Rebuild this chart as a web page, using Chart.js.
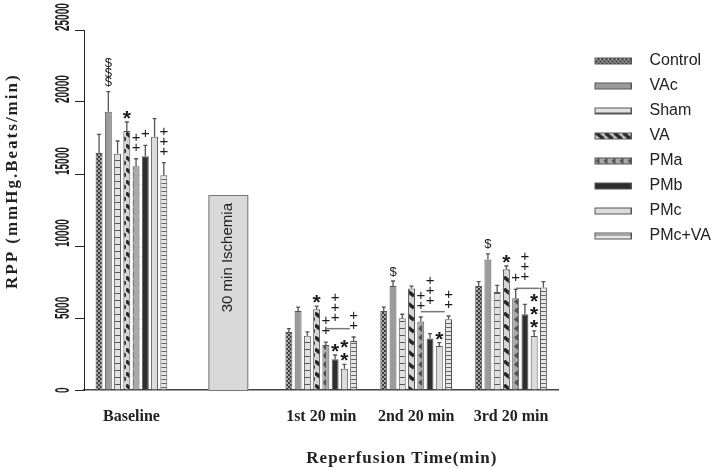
<!DOCTYPE html>
<html>
<head>
<meta charset="utf-8">
<script src="https://cdn.jsdelivr.net/npm/chart.js@4.4.0/dist/chart.umd.min.js"></script>
<style>
  html, body { margin: 0; padding: 0; background: #fff; }
</style>
</head>
<body>
<canvas id="rpp" width="718" height="470"></canvas>
<script>
// x categories (index 1 is the ischemia gap)
const categories = ["Baseline", "", "1st 20 min", "2nd 20 min", "3rd 20 min"];
const groups = ["Control", "VAc", "Sham", "VA", "PMa", "PMb", "PMc", "PMc+VA"];
const yTicks = [0, 5000, 10000, 15000, 20000, 25000];

// means (mmHg.Beats/min)
const control = [16450, null, 4030, 5490, 7220];
const vac     = [19330, null, 5490, 7220, 9070];
const sham    = [16410, null, 3770, 4980, 6810];
const va      = [17990, null, 5600, 7040, 8380];
const pma     = [15530, null, 3130, 4750, 6370];
const pmb     = [16230, null, 2130, 3570, 5260];
const pmc     = [17590, null, 1480, 3060, 3750];
const pmcva   = [14910, null, 3400, 4910, 7110];

// error bar (SEM) sizes
const controlErr = [1300, null, 230, 270, 300];
const vacErr     = [1390, null, 270, 350, 380];
const shamErr    = [880,  null, 260, 280, 460];
const vaErr      = [620,  null, 230, 180, 230];
const pmaErr     = [530,  null, 200, 320, 620];
const pmbErr     = [760,  null, 300, 340, 690];
const pmcErr     = [1250, null, 300, 230, 350];
const pmcvaErr   = [880,  null, 280, 230, 410];

const ischemiaTop = 13540;
const ischemiaText = "30 min Ischemia";

// significance symbols: [category, group, symbols stacked from top]
const marks = [
  [0, "VAc", "$$$"], [0, "VA", "*"], [0, "PMa", "++"], [0, "PMb", "+"], [0, "PMc+VA", "+++"],
  [2, "VA", "*"], [2, "PMa", "++"], [2, "PMb", "*"], [2, "PMc", "**"], [2, "PMc+VA", "++"],
  [3, "VAc", "$"], [3, "PMa", "++"], [3, "PMc", "*"], [3, "PMc+VA", "++"],
  [4, "VAc", "$"], [4, "VA", "*"], [4, "PMa", "+"], [4, "PMc", "***"]
];
// bracket over PMa..PMc with "+++" on top
const bracketLevel = [null, null, 4260, 5440, 7060];
const bracketText = "+++";

const means = [control, vac, sham, va, pma, pmb, pmc, pmcva];
const errors = [controlErr, vacErr, shamErr, vaErr, pmaErr, pmbErr, pmcErr, pmcvaErr];

// ---- fill patterns ----
function tile(w, h, paint) {
  const c = document.createElement("canvas");
  c.width = w; c.height = h;
  paint(c.getContext("2d"), w, h);
  return c;
}
const tiles = [
  tile(4, 4, (g) => { g.fillStyle = "#3a3a3a"; g.fillRect(0, 0, 4, 4); g.fillStyle = "#a8a8a8"; g.fillRect(0, 0, 2, 2); g.fillRect(2, 2, 2, 2); }),
  tile(4, 4, (g) => { g.fillStyle = "#9b9b9b"; g.fillRect(0, 0, 4, 4); }),
  tile(7, 7, (g) => { g.fillStyle = "#e2e2e2"; g.fillRect(0, 0, 7, 7); g.fillStyle = "#555"; g.fillRect(0, 6, 7, 1); }),
  tile(9, 12, (g) => { g.fillStyle = "#d6d6d6"; g.fillRect(0, 0, 9, 12); g.strokeStyle = "#262626"; g.lineWidth = 3.5; g.beginPath(); g.moveTo(0, 1); g.lineTo(9, 8); g.stroke(); }),
  tile(8, 9, (g) => { g.fillStyle = "#a9a9a9"; g.fillRect(0, 0, 8, 9); g.fillStyle = "#505050"; g.beginPath(); g.moveTo(6, 1); g.lineTo(2, 4.5); g.lineTo(6, 8); g.fill(); }),
  tile(4, 4, (g) => { g.fillStyle = "#2e2e2e"; g.fillRect(0, 0, 4, 4); }),
  tile(4, 4, (g) => { g.fillStyle = "#dcdcdc"; g.fillRect(0, 0, 4, 4); }),
  tile(4, 4, (g) => { g.fillStyle = "#e6e6e6"; g.fillRect(0, 0, 4, 4); g.fillStyle = "#666"; g.fillRect(0, 3, 4, 1); })
];
const helperCtx = document.createElement("canvas").getContext("2d");
const patterns = tiles.map((t) => helperCtx.createPattern(t, "repeat"));

// legend swatches: 37x7 box at the right end of a 54px wide image
function swatch(i) {
  return tile(54, 9, (g) => {
    g.fillStyle = patterns[i];
    g.fillRect(17, 1, 37, 7);
    g.strokeStyle = "#555"; g.lineWidth = 1;
    g.strokeRect(17.5, 1.5, 36, 6);
  });
}

const overlay = {
  id: "overlay",
  beforeDatasetsDraw(chart) {
    const { ctx, scales: { x, y } } = chart;
    const step = x.width / categories.length;
    const cx = x.getPixelForValue(1) + 2;
    const top = y.getPixelForValue(ischemiaTop);
    const bottom = y.getPixelForValue(0);
    ctx.save();
    ctx.fillStyle = "#d9d9d9";
    ctx.strokeStyle = "#777";
    ctx.lineWidth = 1;
    ctx.fillRect(cx - step * 0.21, top, step * 0.42, bottom - top);
    ctx.strokeRect(cx - step * 0.21 + 0.5, top + 0.5, step * 0.42 - 1, bottom - top);
    ctx.translate(cx, top + 8);
    ctx.rotate(-Math.PI / 2);
    ctx.fillStyle = "#222";
    ctx.font = "15px 'Liberation Sans', Arial, sans-serif";
    ctx.textAlign = "right";
    ctx.textBaseline = "middle";
    ctx.fillText(ischemiaText, 0, 0);
    ctx.restore();
  },
  afterDatasetsDraw(chart) {
    const { ctx, scales: { y } } = chart;
    ctx.save();
    // error bars
    ctx.strokeStyle = "#555";
    ctx.lineWidth = 1.3;
    means.forEach((vals, i) => {
      const meta = chart.getDatasetMeta(i);
      vals.forEach((v, j) => {
        const e = errors[i][j];
        if (v == null || e == null) return;
        const bar = meta.data[j];
        const t = y.getPixelForValue(v + e);
        ctx.beginPath();
        ctx.moveTo(bar.x, bar.y);
        ctx.lineTo(bar.x, t);
        ctx.moveTo(bar.x - 2, t);
        ctx.lineTo(bar.x + 2, t);
        ctx.stroke();
      });
    });

    const drawStack = (text, cx, base) => {
      // stack characters upward starting at pixel "base"
      let yy = base;
      for (let k = text.length - 1; k >= 0; k--) {
        const ch = text[k];
        if (ch === "*") {
          ctx.font = "bold 21px 'Liberation Sans', Arial, sans-serif";
          ctx.textBaseline = "alphabetic";
          ctx.fillText(ch, cx, yy + 6);
          yy -= 13;
        } else if (ch === "$") {
          ctx.font = "13px 'Liberation Sans', Arial, sans-serif";
          ctx.textBaseline = "middle";
          ctx.fillText(ch, cx, yy - 6);
          yy -= 9.5;
        } else {
          ctx.font = "15px 'Liberation Sans', Arial, sans-serif";
          ctx.textBaseline = "middle";
          ctx.fillText(ch, cx, yy - 5);
          yy -= 10;
        }
      }
    };

    ctx.fillStyle = "#1a1a1a";
    ctx.textAlign = "center";
    marks.forEach(([cat, name, text]) => {
      const i = groups.indexOf(name);
      const bar = chart.getDatasetMeta(i).data[cat];
      const t = y.getPixelForValue(means[i][cat] + errors[i][cat]);
      drawStack(text, bar.x, t - (text[0] === "+" ? 6 : 3));
    });

    // brackets
    const a = groups.indexOf("PMa"), b = groups.indexOf("PMb"), c = groups.indexOf("PMc");
    bracketLevel.forEach((lv, cat) => {
      if (lv == null) return;
      const ba = chart.getDatasetMeta(a).data[cat];
      const bb = chart.getDatasetMeta(b).data[cat];
      const bc = chart.getDatasetMeta(c).data[cat];
      const ly = y.getPixelForValue(lv);
      ctx.strokeStyle = "#777";
      ctx.lineWidth = 1.5;
      ctx.beginPath();
      ctx.moveTo(ba.x, ly);
      ctx.lineTo(bc.x + bc.width / 2 + 2, ly);
      ctx.stroke();
      drawStack(bracketText, bb.x, ly - 6);
    });

    ctx.restore();
  },
  afterDraw(chart) {
    const { ctx, chartArea, scales: { y } } = chart;
    ctx.save();
    ctx.fillStyle = "#222";
    ctx.textBaseline = "middle";

    // y tick labels: tall, narrow digits reading upward
    ctx.font = "bold 10px 'Liberation Sans', Arial, sans-serif";
    ctx.textAlign = "left";
    y.ticks.forEach((t) => {
      const label = yTicks.includes(t.value) ? String(t.value) : "";
      const p = y.getPixelForValue(t.value);
      ctx.save();
      ctx.translate(63, p);
      ctx.rotate(-Math.PI / 2);
      ctx.scale(1, 2);
      ctx.fillStyle = "#1e1e1e";
      ctx.fillText(label, label.length === 1 ? -3 : -1, 0);
      ctx.restore();
    });

    ctx.textAlign = "center";
    ctx.font = "bold 17px 'Liberation Serif', 'Times New Roman', serif";
    ctx.letterSpacing = "1px";
    ctx.fillText("Reperfusion Time(min)", chartArea.left + chartArea.width * 0.67, 459);
    ctx.translate(13, chartArea.top + chartArea.height * 0.42);
    ctx.rotate(-Math.PI / 2);
    ctx.letterSpacing = "2px";
    ctx.fillText("RPP (mmHg.Beats/min)", 0, 0);
    ctx.restore();
  }
};

new Chart(document.getElementById("rpp"), {
  type: "bar",
  data: {
    labels: categories,
    datasets: groups.map((name, i) => ({
      label: name,
      data: means[i],
      backgroundColor: patterns[i],
      borderColor: "#555",
      borderWidth: 1,
      categoryPercentage: 0.78,
      barPercentage: 0.75
    }))
  },
  options: {
    responsive: false,
    animation: false,
    layout: { padding: { top: 30, left: 62, right: -3, bottom: 0 } },
    plugins: {
      tooltip: { enabled: false },
      legend: {
        position: "right",
        align: "start",
        title: { display: true, text: " ", font: { size: 10 }, padding: { top: 2, bottom: 0 } },
        labels: {
          usePointStyle: true,
          pointStyleWidth: 74,
          padding: 9,
          color: "#222",
          font: { family: "'Liberation Sans', Arial, sans-serif", size: 16 },
          generateLabels: (chart) =>
            Chart.defaults.plugins.legend.labels.generateLabels(chart).map((item, i) => ({
              ...item,
              pointStyle: swatch(i)
            }))
        }
      }
    },
    scales: {
      x: {
        grid: { display: false },
        border: { display: true, color: "#444", width: 1.5 },
        ticks: {
          padding: 9,
          color: "#222",
          font: { family: "'Liberation Serif', 'Times New Roman', serif", size: 16, weight: "bold" }
        },
        afterFit: (s) => { s.height = 80; }
      },
      y: {
        min: 0,
        max: 25000,
        afterBuildTicks: (s) => { s.ticks = yTicks.map((v) => ({ value: v })); },
        grid: { drawOnChartArea: false, drawTicks: true, tickLength: 9, color: "#222" },
        border: { display: true, color: "#222", width: 1 },
        ticks: { display: false },
        afterFit: (s) => { s.width = 22; }
      }
    }
  },
  plugins: [overlay]
});
</script>
</body>
</html>
